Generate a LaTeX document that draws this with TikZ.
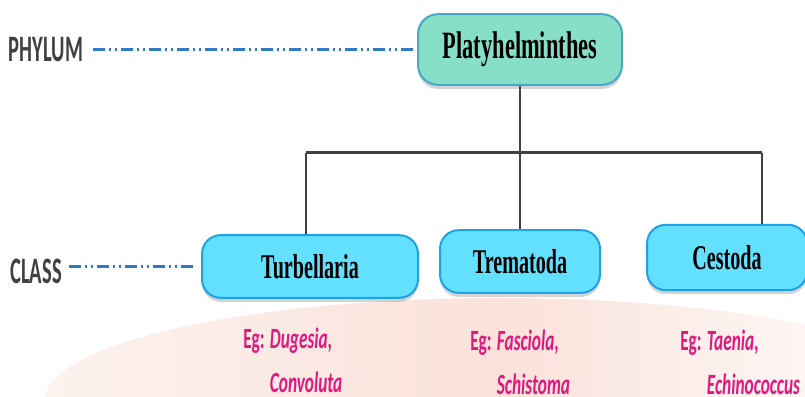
\documentclass[tikz,border=0pt]{standalone}
\usepackage{fontspec}
\newfontfamily\taxfont[FakeStretch=0.58]{Liberation Serif}
\newfontfamily\rankfont[FakeStretch=0.55]{Carlito}
\newfontfamily\egfont[FakeStretch=0.59]{Carlito}
\usetikzlibrary{shadows}

\definecolor{platfill}{RGB}{134,223,198}
\definecolor{platline}{RGB}{72,168,200}
\definecolor{clsfill}{RGB}{99,224,254}
\definecolor{clsline}{RGB}{29,161,232}
\definecolor{ink}{RGB}{64,64,64}
\definecolor{guide}{RGB}{46,123,196}
\definecolor{egcol}{RGB}{224,25,126}
\definecolor{bgpink}{RGB}{250,226,218}

\tikzset{
  rank/.style={inner sep=0pt,text=ink,font=\rankfont\bfseries\fontsize{28}{28}\selectfont},
  taxon/.style={draw=clsline,fill=clsfill,line width=1.5pt,rounded corners=14pt,
    font=\taxfont\bfseries\fontsize{26}{26}\selectfont,
    drop shadow={shadow xshift=0pt,shadow yshift=-3pt,opacity=0.35}},
  guideline/.style={guide,line width=1.9pt,
    dash pattern=on 9pt off 3pt on 1.5pt off 3pt on 1.5pt off 3pt},
  branch/.style={ink,line width=1.6pt},
  example/.style={anchor=north west,inner sep=0pt,align=left,text=egcol,
    font=\egfont\bfseries\fontsize{22}{33}\selectfont}
}

\begin{document}
\begin{tikzpicture}[x=0.75pt,y=-0.75pt]
\useasboundingbox (0,0) rectangle (805,396);
\clip (0,0) rectangle (805,396);
\shade[left color=bgpink!45!white,right color=white,middle color=bgpink]
  (500,400) ellipse [x radius=455,y radius=102];

\node[rank] (phy) at (46,49.5) {PHYLUM};
\node[rank] (cls) at (36,271) {CLASS};

\node[taxon,draw=platline,fill=platfill,rounded corners=15pt,
  font=\taxfont\bfseries\fontsize{29}{29}\selectfont,
  minimum width=153pt,minimum height=53pt] (plat) at (520,49.5) {Platyhelminthes};
\node[taxon,minimum width=162pt,minimum height=47pt] (turb) at (310,266.5) {Turbellaria};
\node[taxon,minimum width=120pt,minimum height=47pt] (trem) at (520,261.5) {Trematoda};
\node[taxon,minimum width=120pt,minimum height=49pt] (ces) at (727,257.5) {Cestoda};

\draw[guideline,shorten <=7pt,shorten >=3pt] (phy.east |- plat.west) -- (plat.west);
\draw[guideline,shorten <=5pt,shorten >=4pt] (cls.east |- turb.west) -- (turb.west);

\coordinate (jl) at (306,152.5);
\coordinate (jr) at (762,152.5);
\draw[branch] (plat.south) -- (plat.south |- jl);
\draw[ink,line width=2.5pt] (jl) -- (jr);
\draw[branch] (jl) -- (jl |- turb.north);
\draw[branch] (trem.north |- jl) -- (trem.north);
\draw[branch] (jr) -- (jr |- ces.north);

\node[example] (egturb) at (243,328) {Eg: \textit{Dugesia,}\\\phantom{Eg: }\textit{Convoluta}};
\node[example] (egtrem) at (470,330) {Eg: \textit{Fasciola,}\\\phantom{Eg: }\textit{Schistoma}};
\node[example] (egces) at (680,330) {Eg: \textit{Taenia,}\\\phantom{Eg: }\textit{Echinococcus}};
\end{tikzpicture}
\end{document}
